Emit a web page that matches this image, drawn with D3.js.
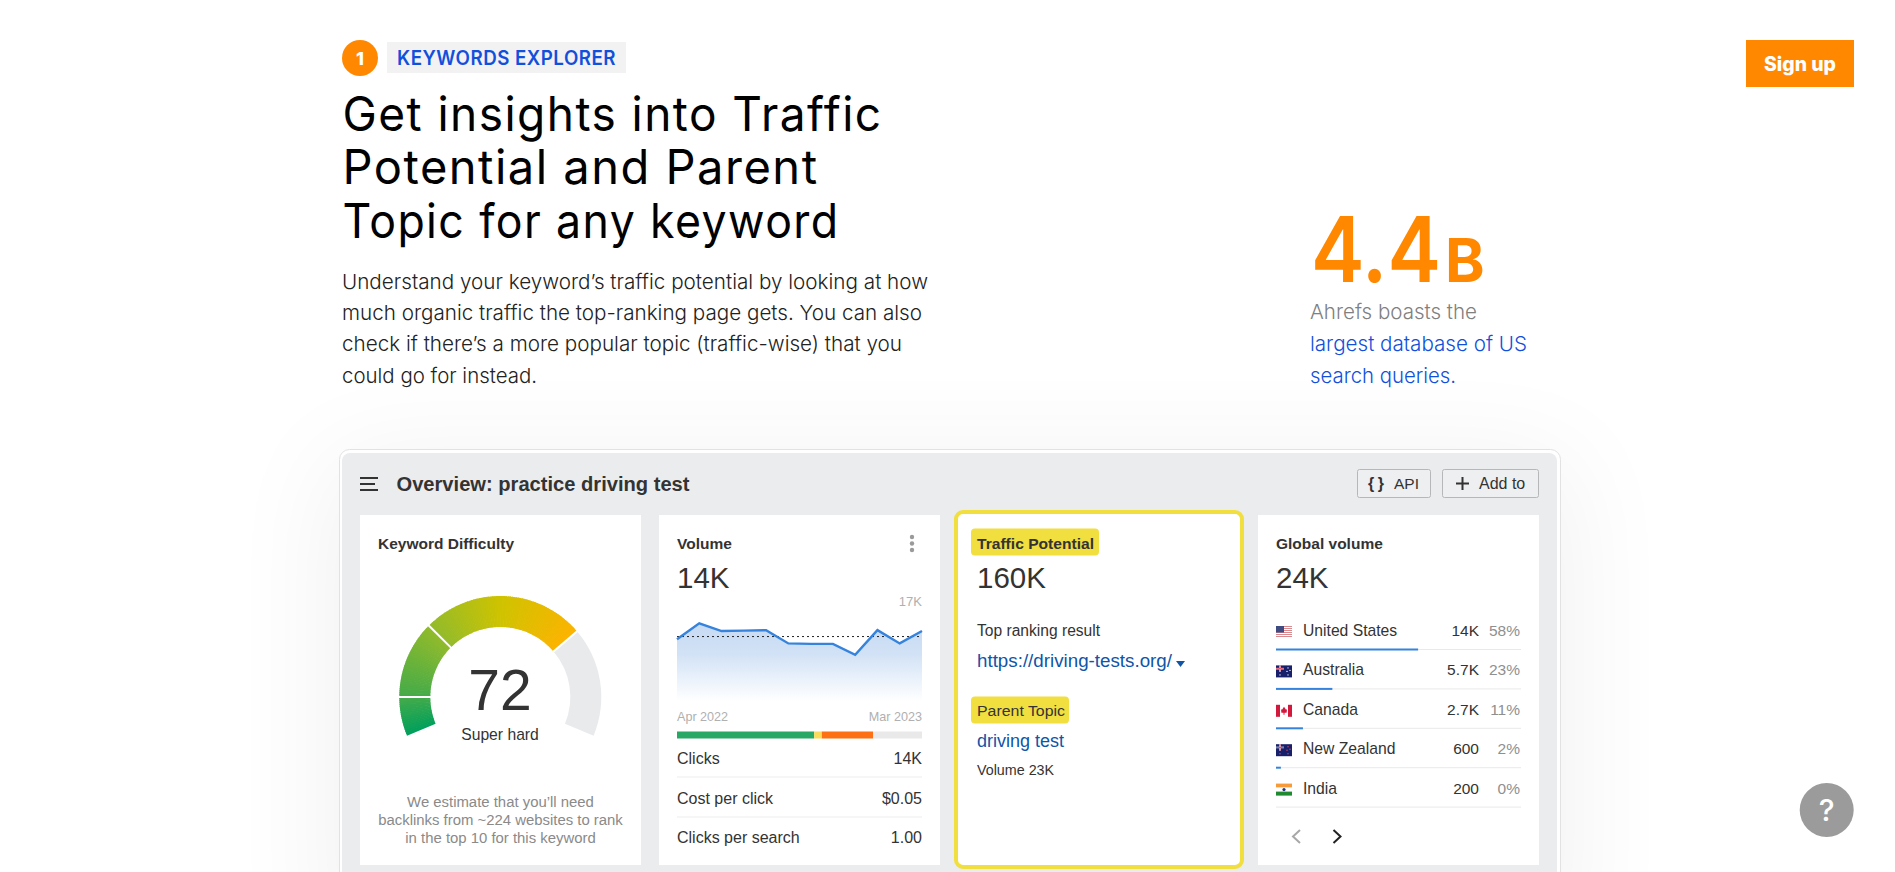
<!DOCTYPE html>
<html>
<head>
<meta charset="utf-8">
<script src="https://cdn.jsdelivr.net/npm/d3@7"></script>
<style>
  html, body { margin: 0; padding: 0; background: #fff; overflow: hidden; }
  svg { display: block; }
  text { font-optical-sizing: none; }
</style>
</head>
<body>
<div id="page"></div>
<script>
// gauge
var difficultyValue = 72;
var difficultyBreaks = [0, 10, 30, 72, 100];
var difficultyStops = [0, 10, 30, 50, 72];
var difficultyColors = ["#02a05c", "#45ab49", "#93bb2a", "#cfc300", "#fdb300"];

// volume sparkline, in thousands
var volumeMonths = ["Apr 2022", "May", "Jun", "Jul", "Aug", "Sep", "Oct", "Nov", "Dec", "Jan", "Feb", "Mar 2023"];
var volumeValues = [13.5, 17, 15.3, 15.4, 15.5, 12.6, 12.5, 12.5, 10.1, 15.5, 12.6, 15.3];
var volumeMean = 14.1;
var volumeMax = 17;

// clicks bar
var clickShares = [56, 3.1, 20.9, 20];
var clickColors = ["#28a865", "#fbdb5b", "#fd7014", "#e9e9e9"];

// rows under the bar
var statLabels = ["Clicks", "Cost per click", "Clicks per search"];
var statValues = ["14K", "$0.05", "1.00"];

// global volume table
var countryNames = ["United States", "Australia", "Canada", "New Zealand", "India"];
var countryVolumes = ["14K", "5.7K", "2.7K", "600", "200"];
var countryShares = [58, 23, 11, 2, 0];

var svgWidth = 1895;
var svgHeight = 872;
var sans = "Inter, sans-serif";
var arial = "'Liberation Sans', Arial, sans-serif";
var orange = "#ff8800";
var blue = "#1150dc";
var linkBlue = "#0f55a8";
var ink = "#333333";

var svg = d3.select("#page")
    .append("svg")
    .attr("width", svgWidth)
    .attr("height", svgHeight);

var defs = svg.append("defs");

// small helper for all the text on the page, width and squeeze are optional
function label(g, x, y, str, size, color, opts) {
    opts = opts || {};
    var t = g.append("text")
        .attr("x", x)
        .attr("y", y)
        .attr("font-family", opts.font || arial)
        .attr("font-size", size)
        .attr("font-weight", opts.weight || 400)
        .attr("fill", color)
        .attr("text-anchor", opts.anchor || "start")
        .text(str);
    if (opts.spacing) {
        t.attr("letter-spacing", opts.spacing);
    }
    if (opts.width) {
        t.attr("textLength", opts.width).attr("lengthAdjust", opts.squeeze ? "spacingAndGlyphs" : "spacing");
    }
    return t;
}

/* ---------- top copy ---------- */
var copy = svg.append("g");

copy.append("circle").attr("cx", 360).attr("cy", 58).attr("r", 18).attr("fill", orange);
label(copy, 360, 65, "1", 18, "#fff", { font: sans, weight: 800, anchor: "middle" });
copy.append("rect").attr("x", 387).attr("y", 42).attr("width", 239).attr("height", 31).attr("fill", "#f2f2f2");
label(copy, 397, 65, "KEYWORDS EXPLORER", 19.5, blue, { font: sans, weight: 600, spacing: 0.5, width: 219, squeeze: true });

var headingLines = ["Get insights into Traffic", "Potential and Parent", "Topic for any keyword"];
var headingWidths = [540, 476, 497];
headingLines.forEach(function (line, i) {
    label(copy, 342.5, 130.5 + i * 53.7, line, 48, "#000", { font: sans, weight: 400, spacing: 1.5, width: headingWidths[i], squeeze: true });
});

var bodyLines = [
    "Understand your keyword\u2019s traffic potential by looking at how",
    "much organic traffic the top-ranking page gets. You can also",
    "check if there\u2019s a more popular topic (traffic-wise) that you",
    "could go for instead."
];
var bodyWidths = [586, 580, 560, 195];
bodyLines.forEach(function (line, i) {
    label(copy, 342, 288.5 + i * 31.4, line, 20.5, "#222", { font: sans, weight: 300, width: bodyWidths[i], squeeze: true });
});

// big number on the right
label(copy, 1311, 282, "4.4", 91, orange, { font: sans, weight: 600, width: 130, squeeze: true });
label(copy, 1445, 282, "B", 60, orange, { font: sans, weight: 700 });
label(copy, 1310, 318.5, "Ahrefs boasts the", 20.5, "#808080", { font: sans, weight: 300, width: 167, squeeze: true });
label(copy, 1310, 351, "largest database of US", 20.5, blue, { font: sans, weight: 300, width: 217, squeeze: true });
label(copy, 1310, 382.5, "search queries.", 20.5, blue, { font: sans, weight: 300, width: 146, squeeze: true });

// sign up button
copy.append("rect").attr("x", 1746).attr("y", 40).attr("width", 108).attr("height", 47).attr("fill", orange);
label(copy, 1800, 70.5, "Sign up", 19.5, "#fff", { font: sans, weight: 800, anchor: "middle", width: 72, squeeze: true });

/* ---------- screenshot panel ---------- */
var blur = defs.append("filter").attr("id", "panelShadow")
    .attr("x", "-30%").attr("y", "-60%").attr("width", "160%").attr("height", "220%");
blur.append("feGaussianBlur").attr("stdDeviation", 55);

var frame = svg.append("g");
frame.append("rect").attr("x", 330).attr("y", 460).attr("width", 1240).attr("height", 500)
    .attr("fill", "#000").attr("opacity", 0.055).attr("filter", "url(#panelShadow)");
frame.append("rect").attr("x", 339.5).attr("y", 449.5).attr("width", 1221).attr("height", 470).attr("rx", 10)
    .attr("fill", "#fff").attr("stroke", "#e2e2e2");
frame.append("rect").attr("x", 342).attr("y", 453).attr("width", 1215).attr("height", 460).attr("rx", 8)
    .attr("fill", "#ebecee");

var panel = svg.append("g").attr("transform", "translate(0, 1)");

// hamburger
[477, 483, 489].forEach(function (y, i) {
    panel.append("rect").attr("x", 360).attr("y", y - 1).attr("width", i == 1 ? 15 : 18).attr("height", 2).attr("fill", ink);
});
label(panel, 396.5, 490, "Overview: practice driving test", 20, ink, { weight: 700, width: 293, squeeze: true });

// header buttons
panel.append("rect").attr("x", 1357.5).attr("y", 468.5).attr("width", 73).attr("height", 28).attr("rx", 2)
    .attr("fill", "#eeeff0").attr("stroke", "#b5b7ba");
label(panel, 1368, 488, "{ }", 16, ink, { weight: 700, width: 16 });
label(panel, 1394, 488, "API", 15.5, ink);
panel.append("rect").attr("x", 1442.5).attr("y", 468.5).attr("width", 96).attr("height", 28).attr("rx", 2)
    .attr("fill", "#eeeff0").attr("stroke", "#b5b7ba");
panel.append("rect").attr("x", 1456).attr("y", 481.5).attr("width", 13).attr("height", 2).attr("fill", ink);
panel.append("rect").attr("x", 1461.5).attr("y", 476).attr("width", 2).attr("height", 13).attr("fill", ink);
label(panel, 1479, 488, "Add to", 16, ink);

// cards
var cardTop = 514;
var cardHeight = 350;
[[360, 281], [659, 281], [1258, 281]].forEach(function (c) {
    panel.append("rect").attr("x", c[0]).attr("y", cardTop).attr("width", c[1]).attr("height", cardHeight).attr("fill", "#fff");
});
panel.append("rect").attr("x", 956).attr("y", 511).attr("width", 286).attr("height", 355).attr("rx", 7)
    .attr("fill", "#fff").attr("stroke", "#f1de3f").attr("stroke-width", 4);

/* ---------- keyword difficulty gauge ---------- */
label(panel, 378, 547.5, "Keyword Difficulty", 15.5, ink, { weight: 700, width: 136, squeeze: true });

var gaugeAngle = d3.scaleLinear().domain([0, 100]).range([-112.5, 112.5].map(d => d * Math.PI / 180));
var gaugeColor = d3.scaleLinear().domain(difficultyStops).range(difficultyColors);
var gaugeArc = d3.arc().innerRadius(70).outerRadius(101);

var gauge = panel.append("g").attr("transform", "translate(500.3, 696)");

// grey remainder
gauge.append("path")
    .attr("d", gaugeArc({ startAngle: gaugeAngle(difficultyValue), endAngle: gaugeAngle(100) }))
    .attr("fill", "#e9eaec");

// coloured part is cut in thin slices so the colour can follow the arc
var slices = d3.range(0, difficultyValue, 0.5);
gauge.selectAll("path.slice")
    .data(slices)
    .enter()
    .append("path")
    .attr("class", "slice")
    .attr("d", d => gaugeArc({ startAngle: gaugeAngle(d), endAngle: gaugeAngle(Math.min(d + 0.7, difficultyValue)) }))
    .attr("fill", d => gaugeColor(d));

// white separators
gauge.selectAll("line.sep")
    .data(difficultyBreaks.slice(1, -1))
    .enter()
    .append("line")
    .attr("class", "sep")
    .attr("x1", d => 68 * Math.sin(gaugeAngle(d)))
    .attr("y1", d => -68 * Math.cos(gaugeAngle(d)))
    .attr("x2", d => 103 * Math.sin(gaugeAngle(d)))
    .attr("y2", d => -103 * Math.cos(gaugeAngle(d)))
    .attr("stroke", "#fff")
    .attr("stroke-width", 2);

label(panel, 500, 709, difficultyValue, 57, ink, { anchor: "middle" });
label(panel, 500, 739, "Super hard", 15.7, ink, { anchor: "middle" });
["We estimate that you\u2019ll need", "backlinks from ~224 websites to rank", "in the top 10 for this keyword"].forEach(function (line, i) {
    label(panel, 500.5, 806 + i * 18, line, 14.9, "#8a8a8a", { anchor: "middle" });
});

/* ---------- volume card ---------- */
label(panel, 677, 547.5, "Volume", 15.5, ink, { weight: 700 });
label(panel, 677, 587, "14K", 29.5, ink);
[536, 542.5, 549].forEach(function (y) {
    panel.append("circle").attr("cx", 912).attr("cy", y).attr("r", 2.2).attr("fill", "#9a9a9a");
});
label(panel, 922, 604.5, "17K", 13, "#b0b0b0", { anchor: "end" });

var xVolume = d3.scaleLinear().domain([0, volumeValues.length - 1]).range([677, 922]);
var yVolume = d3.scaleLinear().domain([0, volumeMax]).range([700, 622.3]);

var areaFill = defs.append("linearGradient").attr("id", "volumeFill")
    .attr("x1", 0).attr("y1", 0).attr("x2", 0).attr("y2", 1);
areaFill.append("stop").attr("offset", "0%").attr("stop-color", "#c6daf3");
areaFill.append("stop").attr("offset", "40%").attr("stop-color", "#d2e2f6");
areaFill.append("stop").attr("offset", "100%").attr("stop-color", "#ffffff");

panel.append("path")
    .datum(volumeValues)
    .attr("d", d3.area().x((d, i) => xVolume(i)).y0(yVolume(0)).y1(d => yVolume(d)))
    .attr("fill", "url(#volumeFill)");

panel.append("line")
    .attr("x1", xVolume(0))
    .attr("x2", xVolume(volumeValues.length - 1))
    .attr("y1", yVolume(volumeMean))
    .attr("y2", yVolume(volumeMean))
    .attr("stroke", "#222")
    .attr("stroke-dasharray", "2 3");

panel.append("path")
    .datum(volumeValues)
    .attr("d", d3.line().x((d, i) => xVolume(i)).y(d => yVolume(d)))
    .attr("fill", "none")
    .attr("stroke", "#3583dc")
    .attr("stroke-width", 2.4);

label(panel, 677, 720, volumeMonths[0], 12.6, "#b0b0b0");
label(panel, 922, 720, volumeMonths[volumeMonths.length - 1], 12.6, "#b0b0b0", { anchor: "end" });

// stacked clicks bar
var xClicks = d3.scaleLinear().domain([0, d3.sum(clickShares)]).range([677, 922]);
var clickEdges = d3.cumsum(clickShares);
panel.selectAll("rect.clicks")
    .data(clickShares)
    .enter()
    .append("rect")
    .attr("class", "clicks")
    .attr("x", (d, i) => xClicks(clickEdges[i] - d))
    .attr("y", 730.5)
    .attr("width", d => xClicks(d) - xClicks(0))
    .attr("height", 7)
    .attr("fill", (d, i) => clickColors[i]);

statLabels.forEach(function (name, i) {
    var base = 763 + i * 39.5;
    label(panel, 677, base, name, 16, ink);
    label(panel, 922, base, statValues[i], 16, ink, { anchor: "end" });
    if (i < 2) {
        panel.append("rect").attr("x", 677).attr("y", 775.5 + i * 40).attr("width", 245).attr("height", 1).attr("fill", "#ededed");
    }
});

/* ---------- traffic potential card ---------- */
panel.append("rect").attr("x", 971).attr("y", 527.5).attr("width", 128).attr("height", 27).attr("rx", 4).attr("fill", "#f1de3f");
label(panel, 977, 547.5, "Traffic Potential", 15.5, ink, { weight: 700, width: 117, squeeze: true });
label(panel, 977, 587, "160K", 29.5, ink);
label(panel, 977, 635, "Top ranking result", 15.6, ink);
label(panel, 977, 666, "https://driving-tests.org/", 18, linkBlue, { width: 195, squeeze: true });
panel.append("path").attr("d", "M1176 660h9l-4.5 6z").attr("fill", linkBlue);
panel.append("rect").attr("x", 971).attr("y", 695.5).attr("width", 98).attr("height", 27).attr("rx", 4).attr("fill", "#f1de3f");
label(panel, 977, 715, "Parent Topic", 15.5, ink, { width: 88, squeeze: true });
label(panel, 977, 746, "driving test", 18, linkBlue);
label(panel, 977, 774, "Volume 23K", 14.3, ink);

/* ---------- global volume card ---------- */
label(panel, 1276, 547.5, "Global volume", 15.5, ink, { weight: 700 });
label(panel, 1276, 587, "24K", 29.5, ink);

var xShare = d3.scaleLinear().domain([0, 100]).range([0, 245]);

function flag(g, name, x, y) {
    var f = g.append("g").attr("transform", "translate(" + x + "," + y + ")");
    function r(rx, ry, w, h, c) {
        f.append("rect").attr("x", rx).attr("y", ry).attr("width", w).attr("height", h).attr("fill", c);
    }
    if (name == "United States") {
        r(0, 0, 16, 12, "#fff");
        d3.range(0, 12, 2).forEach(function (s) { r(0, s, 16, 1, "#d98a8f"); });
        r(0, 0, 8, 6.5, "#3f4a80");
    } else if (name == "Canada") {
        r(0, 0, 16, 12, "#fff");
        r(0, 0, 4, 12, "#d2183c");
        r(12, 0, 4, 12, "#d2183c");
        f.append("path").attr("d", "M8 2l2 3 1-.5-.4 3.5H8.5V10h-1V8H5.4L5 4.5 6 5z").attr("fill", "#d2183c");
    } else if (name == "India") {
        r(0, 0, 16, 4, "#f79a3a");
        r(0, 4, 16, 4, "#fff");
        r(0, 8, 16, 4, "#1f8a2f");
        f.append("circle").attr("cx", 8).attr("cy", 6).attr("r", 1.6).attr("fill", "#26357f");
    } else {
        // Australia and New Zealand, navy with a small jack and a few stars
        r(0, 0, 16, 12, "#18206b");
        r(0, 2.5, 8, 1.5, "#fff");
        r(3.2, 0, 1.6, 6.5, "#fff");
        r(0, 2.9, 8, 0.8, "#d8334a");
        r(3.6, 0, 0.8, 6.5, "#d8334a");
        [[12, 2.5], [14, 5], [11, 6], [12, 9.5], [4, 9.5]].forEach(function (s) {
            f.append("circle").attr("cx", s[0]).attr("cy", s[1]).attr("r", 0.7)
                .attr("fill", name == "Australia" ? "#fff" : "#e0475a");
        });
    }
}

countryNames.forEach(function (name, i) {
    var base = 635 + i * 39.4;
    flag(panel, name, 1276, base - 10);
    label(panel, 1303, base, name, 15.7, ink);
    label(panel, 1479, base, countryVolumes[i], 15.5, ink, { anchor: "end" });
    label(panel, 1520, base, countryShares[i] + "%", 15.5, "#8f8f8f", { anchor: "end" });
    panel.append("rect").attr("x", 1276).attr("y", base + 13).attr("width", 245).attr("height", 1).attr("fill", "#e9e9e9");
    panel.append("rect").attr("x", 1276).attr("y", base + 12.5)
        .attr("width", xShare(countryShares[i]))
        .attr("height", 2)
        .attr("fill", "#3583dc");
});

// pagination chevrons
panel.append("path").attr("d", "M1300 829l-7 6.5 7 6.5").attr("fill", "none").attr("stroke", "#a8a8a8").attr("stroke-width", 2);
panel.append("path").attr("d", "M1333.5 829l7 6.5-7 6.5").attr("fill", "none").attr("stroke", "#222").attr("stroke-width", 2);

/* ---------- help button ---------- */
svg.append("circle").attr("cx", 1826.7).attr("cy", 810).attr("r", 27).attr("fill", "#9b9b9b");
label(svg, 1826.7, 821, "?", 30, "#fff", { font: sans, weight: 500, anchor: "middle" });
</script>
</body>
</html>
